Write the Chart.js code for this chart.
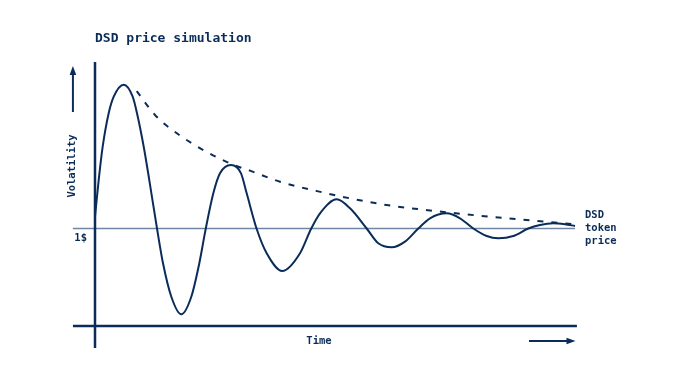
<!DOCTYPE html>
<html><head><meta charset="utf-8">
<script src="https://cdn.jsdelivr.net/npm/chart.js@4/dist/chart.umd.min.js"></script>
<style>html,body{margin:0;padding:0;background:#fff;}#wrap{width:690px;height:387px;position:relative;}</style>
</head><body><div id="wrap"><canvas id="c" width="690" height="387"></canvas></div>
<script>
// Time (0..100) and price (1 = 1$ peg)
const timeValues = [0, 0.77, 1.6, 2.85, 3.9, 5.98, 7.85, 8.75, 10.15, 11.31, 12.92, 14.17, 15.9, 17.98, 20.06, 21.73, 23.08, 24.65, 26.04, 28.33, 30.42, 31.6, 33.69, 35.77, 39.02, 42.71, 45.0, 46.88, 50.35, 53.13, 56.6, 59.02, 61.81, 64.58, 67.35, 69.79, 73.27, 76.04, 78.81, 81.6, 84.02, 87.15, 90.27, 92.71, 95.48, 97.92, 100];
const priceValues = [1.121, 1.497, 1.839, 2.182, 2.352, 2.475, 2.352, 2.182, 1.839, 1.497, 1.0, 0.643, 0.3, 0.12, 0.3, 0.643, 1.0, 1.361, 1.566, 1.651, 1.566, 1.361, 0.995, 0.746, 0.564, 0.746, 0.995, 1.156, 1.299, 1.207, 1.0, 0.848, 0.807, 0.865, 1.0, 1.105, 1.156, 1.105, 1.0, 0.923, 0.9, 0.923, 1.0, 1.036, 1.053, 1.043, 1.026];
const envelopeTime = [8.69, 12.5, 17.56, 22.92, 28.48, 32.29, 38.54, 48.27, 53.75, 60.77, 73.27, 85.77, 100];
const envelopeValues = [2.41, 2.164, 1.959, 1.795, 1.66, 1.593, 1.48, 1.361, 1.303, 1.241, 1.166, 1.105, 1.043];
const pegPrice = 1;
const pegTime = [-4.6, 100];
const titleText = 'DSD price simulation';
const yAxisLabel = 'Volatility';
const xAxisLabel = 'Time';
const pegLabel = '1$';
const seriesLabel = ['DSD', 'token', 'price'];

const NAVY = '#0b2c59';
const PEG = '#6f87a5';
const FONT = '"DejaVu Sans Mono", "Liberation Mono", monospace';

const curve = timeValues.map((t, i) => ({x: t, y: priceValues[i]}));
const envelope = envelopeTime.map((t, i) => ({x: t, y: envelopeValues[i]}));
const pegLine = pegTime.map(t => ({x: t, y: pegPrice}));

const decor = {
  id: 'decor',
  afterDatasetsDraw(chart) {
    const {ctx, chartArea: ca, scales: {x: xs, y: ys}} = chart;
    ctx.save();
    ctx.strokeStyle = NAVY; ctx.fillStyle = NAVY;
    ctx.lineWidth = 2.5; ctx.lineCap = 'butt';
    const x0 = xs.getPixelForValue(0), y0 = ys.getPixelForValue(0);
    const xl = xs.getPixelForValue(-4.6), xr = xs.getPixelForValue(100.4);
    // y axis
    ctx.beginPath(); ctx.moveTo(x0, ca.top); ctx.lineTo(x0, ys.getPixelForValue(-0.225)); ctx.stroke();
    // x axis
    ctx.beginPath(); ctx.moveTo(xl, y0); ctx.lineTo(xr, y0); ctx.stroke();
    // y arrow
    ctx.lineWidth = 2;
    ctx.beginPath(); ctx.moveTo(xl, ca.top + 50); ctx.lineTo(xl, ca.top + 11); ctx.stroke();
    ctx.beginPath(); ctx.moveTo(xl, ca.top + 4); ctx.lineTo(xl - 3.3, ca.top + 13); ctx.lineTo(xl + 3.3, ca.top + 13); ctx.closePath(); ctx.fill();
    // x arrow
    const xa = xs.getPixelForValue(100), ya = y0 + 15;
    ctx.beginPath(); ctx.moveTo(xa - 46, ya); ctx.lineTo(xa - 6, ya); ctx.stroke();
    ctx.beginPath(); ctx.moveTo(xa + 0.5, ya); ctx.lineTo(xa - 8.5, ya - 3.3); ctx.lineTo(xa - 8.5, ya + 3.3); ctx.closePath(); ctx.fill();
    // texts
    ctx.textBaseline = 'alphabetic';
    ctx.font = 'bold 13px ' + FONT; ctx.textAlign = 'left';
    ctx.fillText(titleText, x0, 42);
    ctx.font = 'bold 10.5px ' + FONT;
    ctx.textAlign = 'center';
    ctx.fillText(xAxisLabel, 319, y0 + 17.5);
    ctx.textAlign = 'right';
    ctx.fillText(pegLabel, x0 - 8, ys.getPixelForValue(pegPrice) + 12.5);
    ctx.textAlign = 'left';
    const yp = ys.getPixelForValue(pegPrice);
    seriesLabel.forEach((s, i) => ctx.fillText(s, xs.getPixelForValue(100) + 10, yp - 10.5 + i * 13));
    ctx.save();
    ctx.translate(75, 166); ctx.rotate(-Math.PI / 2);
    ctx.textAlign = 'center';
    ctx.fillText(yAxisLabel, 0, 0);
    ctx.restore();
    ctx.restore();
  }
};

new Chart(document.getElementById('c'), {
  type: 'line',
  data: {
    datasets: [
      {data: curve, borderColor: NAVY, borderWidth: 2, pointRadius: 0, cubicInterpolationMode: 'monotone', clip: false, order: 0},
      {data: envelope, borderColor: NAVY, borderWidth: 2, borderDash: [6, 8], pointRadius: 0, cubicInterpolationMode: 'monotone', clip: false, order: 1},
      {data: pegLine, borderColor: PEG, borderWidth: 1.6, pointRadius: 0, clip: false, order: 2}
    ]
  },
  options: {
    responsive: false, animation: false, devicePixelRatio: 1,
    layout: {padding: {left: 95, right: 115, top: 62, bottom: 61}},
    plugins: {legend: {display: false}, tooltip: {enabled: false}, title: {display: false}},
    scales: {
      x: {type: 'linear', min: 0, max: 100, display: false},
      y: {type: 'linear', min: 0, max: 2.7077, display: false}
    }
  },
  plugins: [decor]
});
</script>
</body></html>
